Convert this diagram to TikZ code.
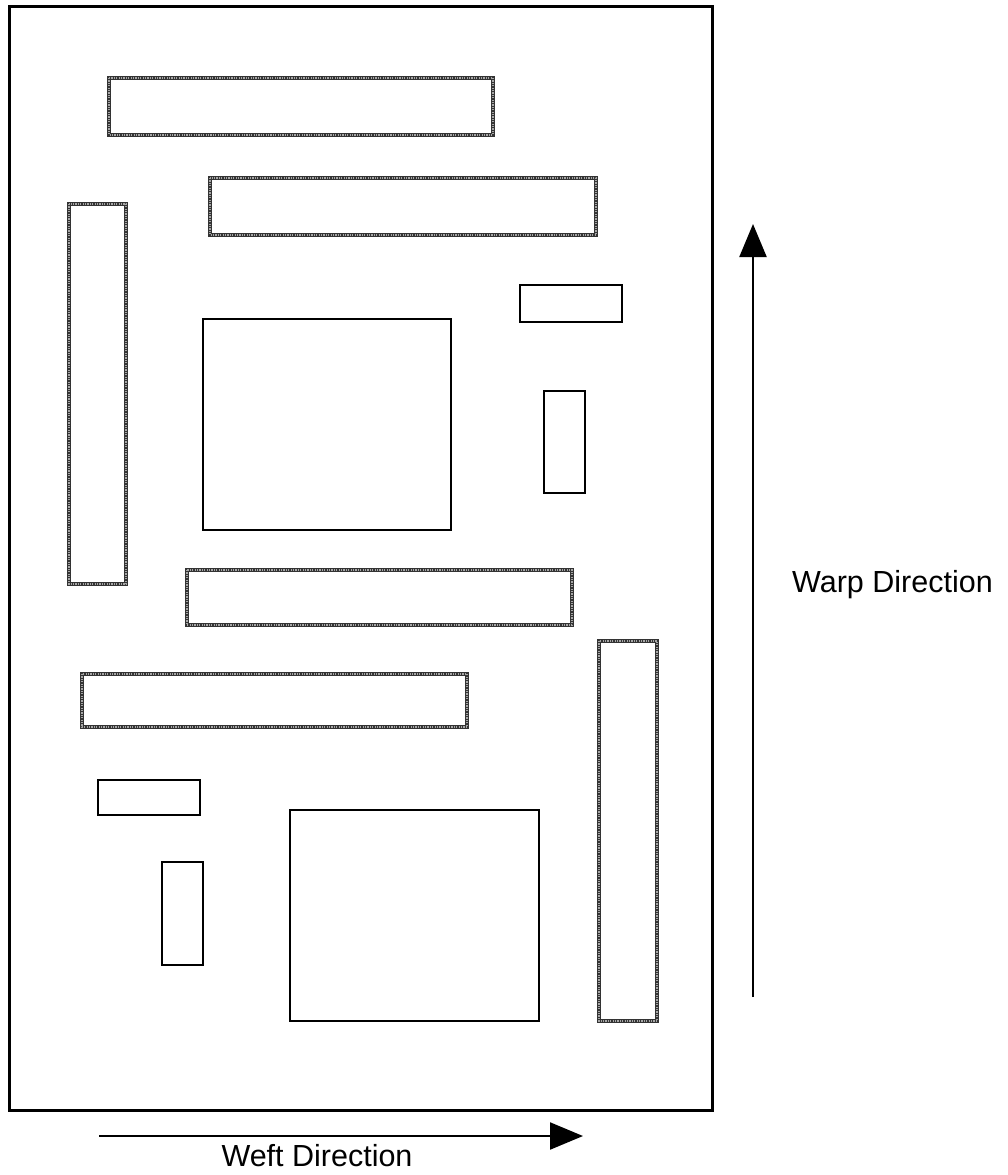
\documentclass[tikz,border=0pt]{standalone}
\usepackage{fontspec}
\setmainfont{Liberation Sans}
\usetikzlibrary{arrows.meta}
\begin{document}
\begin{tikzpicture}[x=1pt,y=-1pt,
  frame/.style={draw=black,line width=3pt},
  plain/.style={draw=black,line width=2.8pt},
  hatch/.style={draw=black!80,line width=4pt},
  hatchin/.style={draw=black!35,line width=1.4pt,dash pattern=on 1.2pt off 1.2pt},
  dirarrow/.style={line width=2.2pt,-{Triangle[length=33pt,width=27pt]}},
  lab/.style={font=\fontsize{30.5}{36}\selectfont,inner sep=0pt}]
\useasboundingbox (0,0) rectangle (1008,1175);
\fill[white] (0,0) rectangle (1008,1175);
% outer sheet
\draw[frame] (9,6) rectangle (712,1110);
% hatched strips
\foreach \a/\b/\c/\d in {109/78/493/135, 210/178/596/235, 69/204/126/584,
  187/570/572/625, 82/674/467/727, 599/641/657/1021}{
  \draw[hatch] (\a,\b) rectangle (\c,\d);
  \draw[hatchin] (\a,\b) rectangle (\c,\d);
}
% plain pieces
\draw[plain] (520,285) rectangle (622,322);
\draw[plain] (203,319) rectangle (451,530);
\draw[plain] (544,391) rectangle (585,493);
\draw[plain] (98,780) rectangle (200,815);
\draw[plain] (162,862) rectangle (203,965);
\draw[plain] (290,810) rectangle (539,1021);
% arrows
\coordinate (warpS) at (753,997);
\coordinate (warpE) at (753,224);
\coordinate (weftS) at (99,1136);
\coordinate (weftE) at (583,1136);
\draw[dirarrow] (warpS) -- (warpE);
\draw[dirarrow] (weftS) -- (weftE);
\node[lab,anchor=base west] (warp) at (792,592) {Warp Direction};
\node[lab,anchor=base] (weft) at (317,1166) {Weft Direction};
\end{tikzpicture}
\end{document}
